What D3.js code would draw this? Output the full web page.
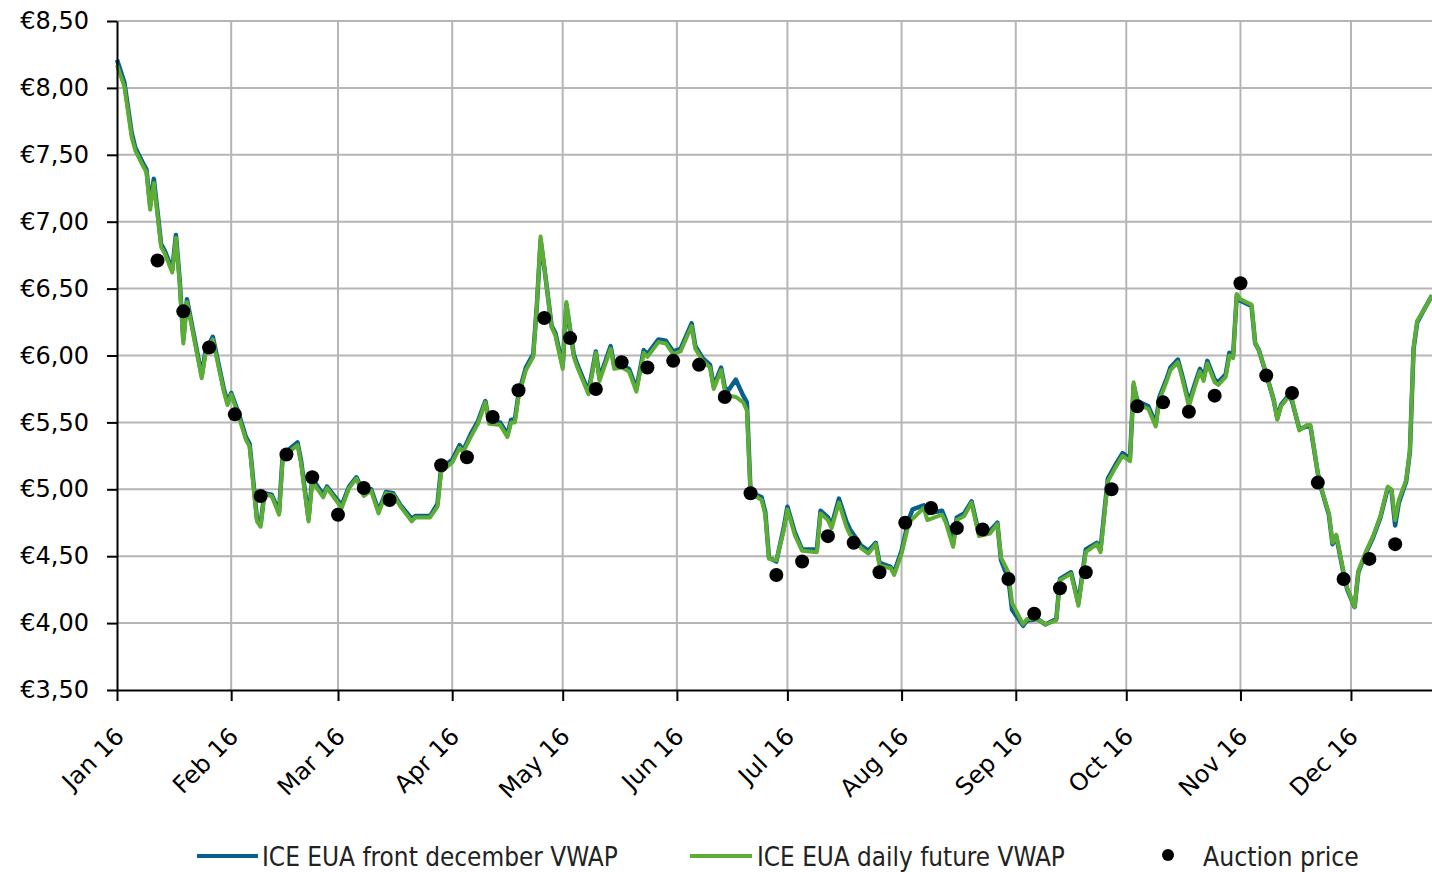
<!DOCTYPE html>
<html>
<head>
<meta charset="utf-8">
<script src="https://cdn.jsdelivr.net/npm/d3@7"></script>
<style>
  html, body { margin: 0; padding: 0; background: #fff; }
  svg { display: block; }
</style>
</head>
<body>
<svg id="chart" width="1432" height="872"></svg>
<script>
// ---------- DATA ----------
const dates = [
"2016-01-01","2016-01-03","2016-01-05","2016-01-06","2016-01-08","2016-01-09","2016-01-10","2016-01-11","2016-01-13","2016-01-14","2016-01-16","2016-01-17","2016-01-18","2016-01-19","2016-01-20","2016-01-24","2016-01-25","2016-01-27","2016-01-30","2016-01-31",
"2016-02-01","2016-02-03","2016-02-05","2016-02-06","2016-02-08","2016-02-09","2016-02-10","2016-02-12","2016-02-14","2016-02-15","2016-02-19","2016-02-20","2016-02-22","2016-02-23","2016-02-26","2016-02-27",
"2016-03-02","2016-03-04","2016-03-06","2016-03-08","2016-03-10","2016-03-12","2016-03-14","2016-03-16","2016-03-18","2016-03-21","2016-03-22","2016-03-26","2016-03-28","2016-03-29",
"2016-04-01","2016-04-03","2016-04-04","2016-04-06","2016-04-08","2016-04-10","2016-04-11","2016-04-14","2016-04-16","2016-04-17","2016-04-18","2016-04-19","2016-04-21","2016-04-23","2016-04-24","2016-04-25","2016-04-26","2016-04-28","2016-04-29",
"2016-05-01","2016-05-02","2016-05-04","2016-05-05","2016-05-08","2016-05-10","2016-05-11","2016-05-14","2016-05-15","2016-05-17","2016-05-19","2016-05-21","2016-05-23","2016-05-24","2016-05-27","2016-05-29","2016-05-31",
"2016-06-02","2016-06-05","2016-06-06","2016-06-08","2016-06-10","2016-06-11","2016-06-13","2016-06-14","2016-06-15","2016-06-17","2016-06-19","2016-06-20","2016-06-21","2016-06-24","2016-06-25","2016-06-26","2016-06-28","2016-06-30",
"2016-07-01","2016-07-03","2016-07-05","2016-07-09","2016-07-10","2016-07-12","2016-07-13","2016-07-15","2016-07-17","2016-07-18","2016-07-21","2016-07-23","2016-07-25","2016-07-26","2016-07-29","2016-07-30",
"2016-08-01","2016-08-03","2016-08-04","2016-08-07","2016-08-08","2016-08-12","2016-08-13","2016-08-15","2016-08-16","2016-08-18","2016-08-20","2016-08-22","2016-08-25","2016-08-27","2016-08-28","2016-08-30","2016-08-31",
"2016-09-03","2016-09-04","2016-09-07","2016-09-09","2016-09-12","2016-09-13","2016-09-16","2016-09-18","2016-09-20","2016-09-23","2016-09-24","2016-09-26","2016-09-28","2016-09-30",
"2016-10-02","2016-10-03","2016-10-04","2016-10-07","2016-10-09","2016-10-10","2016-10-12","2016-10-13","2016-10-15","2016-10-16","2016-10-18","2016-10-20","2016-10-21","2016-10-22","2016-10-23","2016-10-25","2016-10-26","2016-10-28","2016-10-29","2016-10-30","2016-10-31",
"2016-11-01","2016-11-04","2016-11-05","2016-11-06","2016-11-08","2016-11-10","2016-11-11","2016-11-12","2016-11-14","2016-11-15","2016-11-17","2016-11-19","2016-11-20","2016-11-22","2016-11-23","2016-11-25","2016-11-26","2016-11-27","2016-11-29","2016-11-30",
"2016-12-02","2016-12-03","2016-12-05","2016-12-07","2016-12-09","2016-12-11","2016-12-12","2016-12-13","2016-12-14","2016-12-16","2016-12-17","2016-12-18","2016-12-19","2016-12-21","2016-12-23"
];

// ICE EUA daily future VWAP (green)
const dailyFuture = [
8.17,8.01,7.63,7.53,7.42,7.37,7.09,7.29,6.81,6.76,6.62,6.88,6.55,6.09,6.40,5.83,6.01,6.12,5.73,5.63,
5.71,5.55,5.37,5.32,4.76,4.72,4.96,4.95,4.81,5.24,5.33,5.19,4.76,5.06,4.94,5.01,
4.86,5.01,5.08,4.95,4.99,4.82,4.97,4.96,4.87,4.76,4.79,4.79,4.87,5.13,
5.20,5.31,5.28,5.39,5.49,5.65,5.49,5.48,5.39,5.50,5.50,5.69,5.89,5.99,6.38,6.89,6.66,6.21,6.15,
5.90,6.40,5.99,5.91,5.71,6.02,5.81,6.05,5.90,5.91,5.88,5.73,6.02,5.99,6.10,6.09,6.01,
6.03,6.22,6.05,5.96,5.91,5.75,5.89,5.74,5.70,5.69,5.65,5.59,4.97,4.92,4.81,4.48,4.47,4.69,
4.85,4.66,4.54,4.53,4.82,4.77,4.71,4.90,4.72,4.66,4.56,4.52,4.59,4.43,4.41,4.36,
4.52,4.75,4.78,4.86,4.77,4.81,4.75,4.57,4.77,4.80,4.90,4.65,4.67,4.74,4.49,4.38,4.15,
3.99,4.03,4.03,3.99,4.02,4.32,4.37,4.13,4.53,4.59,4.53,5.06,5.16,5.25,
5.21,5.80,5.64,5.60,5.47,5.67,5.81,5.89,5.95,5.85,5.62,5.80,5.88,5.81,5.94,5.80,5.78,5.84,6.00,5.98,6.46,
6.42,6.38,6.09,6.04,5.86,5.67,5.52,5.62,5.69,5.67,5.44,5.48,5.48,5.12,5.00,4.82,4.60,4.66,4.38,4.26,
4.12,4.39,4.53,4.65,4.80,5.02,5.00,4.77,4.92,5.07,5.29,6.06,6.26,6.35,6.45
];

// ICE EUA front december VWAP (blue)
const frontDecember = [
8.21,8.04,7.66,7.55,7.44,7.39,7.12,7.32,6.83,6.78,6.64,6.90,6.57,6.12,6.42,5.85,6.03,6.14,5.75,5.65,
5.72,5.57,5.39,5.34,4.78,4.74,4.97,4.96,4.83,5.26,5.35,5.21,4.78,5.08,4.96,5.02,
4.88,5.02,5.09,4.97,5.00,4.84,4.98,4.97,4.88,4.78,4.80,4.80,4.89,5.16,
5.22,5.33,5.29,5.41,5.51,5.66,5.51,5.50,5.41,5.52,5.52,5.71,5.91,6.01,6.38,6.86,6.66,6.22,6.17,
5.92,6.38,6.01,5.93,5.73,6.03,5.83,6.07,5.92,5.93,5.90,5.75,6.04,6.01,6.12,6.11,6.03,
6.05,6.24,6.07,5.98,5.93,5.77,5.91,5.76,5.74,5.82,5.70,5.65,4.98,4.94,4.83,4.49,4.46,4.71,
4.87,4.68,4.55,4.55,4.84,4.79,4.73,4.93,4.76,4.70,4.58,4.54,4.60,4.45,4.42,4.38,
4.54,4.78,4.85,4.88,4.82,4.84,4.77,4.59,4.79,4.82,4.91,4.67,4.69,4.75,4.47,4.33,4.10,
3.98,4.02,4.03,3.99,4.03,4.33,4.38,4.15,4.55,4.60,4.55,5.08,5.18,5.27,
5.23,5.78,5.66,5.62,5.49,5.69,5.83,5.91,5.97,5.87,5.65,5.82,5.90,5.83,5.96,5.82,5.80,5.86,6.02,6.00,6.45,
6.41,6.37,6.09,6.04,5.86,5.67,5.53,5.63,5.70,5.66,5.45,5.47,5.47,5.12,5.00,4.81,4.59,4.65,4.37,4.25,
4.12,4.38,4.52,4.64,4.79,5.01,4.99,4.73,4.90,5.06,5.28,6.05,6.25,6.35,6.45
];

const auctionDates = [
"2016-01-12","2016-01-19","2016-01-26","2016-02-02","2016-02-09","2016-02-16","2016-02-23","2016-03-01","2016-03-08","2016-03-15","2016-03-29",
"2016-04-05","2016-04-12","2016-04-19","2016-04-26","2016-05-03","2016-05-10","2016-05-17","2016-05-24","2016-05-31","2016-06-07","2016-06-14",
"2016-06-21","2016-06-28","2016-07-05","2016-07-12","2016-07-19","2016-07-26","2016-08-02","2016-08-09","2016-08-16","2016-08-23","2016-08-30",
"2016-09-06","2016-09-13","2016-09-20","2016-09-27","2016-10-04","2016-10-11","2016-10-18","2016-10-25","2016-11-01","2016-11-08","2016-11-15",
"2016-11-22","2016-11-29","2016-12-06","2016-12-13"
];
const auctionPrices = [
6.71,6.33,6.06,5.56,4.95,5.26,5.09,4.81,5.01,4.92,5.18,
5.24,5.54,5.74,6.28,6.13,5.75,5.95,5.91,5.96,5.93,5.69,
4.97,4.36,4.46,4.65,4.60,4.38,4.75,4.86,4.71,4.70,4.33,
4.07,4.26,4.38,5.00,5.62,5.65,5.58,5.70,6.54,5.85,5.72,
5.05,4.33,4.48,4.59
];

const yTicks = [3.5,4.0,4.5,5.0,5.5,6.0,6.5,7.0,7.5,8.0,8.5];
const seriesNames = ["ICE EUA front december VWAP","ICE EUA daily future VWAP","Auction price"];
const xStart = "2016-01-01", xEnd = "2016-12-23";

// ---------- CHART ----------
const parse = d3.timeParse("%Y-%m-%d");
const svg = d3.select("#chart");
const m = {left:117, right:1432, top:21, bottom:690};

const x = d3.scaleTime().domain([parse(xStart), parse(xEnd)]).range([m.left, m.right]);
const y = d3.scaleLinear().domain([3.5, 8.5]).range([m.bottom, m.top]);

const COL_BLUE = "#0b5f8c", COL_GREEN = "#5cad33", GRID = "#b5b5b5";
const tickFont = "'DejaVu Sans', Verdana, sans-serif";

// gridlines
const months = d3.timeMonth.range(parse("2016-01-01"), parse("2016-12-24"));
svg.append("g").selectAll("line.hg").data(yTicks.slice(1)).join("line")
  .attr("x1", m.left).attr("x2", m.right)
  .attr("y1", d => y(d)).attr("y2", d => y(d))
  .attr("stroke", GRID).attr("stroke-width", 2);
svg.append("g").selectAll("line.vg").data(months.slice(1)).join("line")
  .attr("x1", d => x(d)).attr("x2", d => x(d))
  .attr("y1", m.top).attr("y2", m.bottom)
  .attr("stroke", GRID).attr("stroke-width", 2);

// lines
const frontData = dates.map((d,i) => ({date: parse(d), v: frontDecember[i]}));
const dailyData = dates.map((d,i) => ({date: parse(d), v: dailyFuture[i]}));
const line = d3.line().x(d => x(d.date)).y(d => y(d.v));

svg.append("path").datum(frontData).attr("d", line)
  .attr("fill","none").attr("stroke", COL_BLUE).attr("stroke-width", 4.5).attr("stroke-linejoin","round");
svg.append("path").datum(dailyData).attr("d", line)
  .attr("fill","none").attr("stroke", COL_GREEN).attr("stroke-width", 4).attr("stroke-linejoin","round");

// auction dots
svg.append("g").selectAll("circle").data(auctionDates.map((d,i)=>({date: parse(d), v: auctionPrices[i]}))).join("circle")
  .attr("cx", d => x(d.date)).attr("cy", d => y(d.v)).attr("r", 7).attr("fill", "#000");

// axes
const fmt = v => "€" + d3.format(".2f")(v).replace(".", ",");
const yAxis = svg.append("g").attr("transform", `translate(${m.left},0)`)
  .call(d3.axisLeft(y).tickValues(yTicks).tickFormat(fmt).tickSize(10).tickSizeOuter(0).tickPadding(18));
yAxis.select(".domain").attr("stroke","#000").attr("stroke-width",2);
yAxis.selectAll(".tick line").attr("stroke","#000").attr("stroke-width",2);
yAxis.selectAll(".tick text").attr("font-family", tickFont).attr("font-size", 24).attr("fill","#000");

const xAxis = svg.append("g").attr("transform", `translate(0,${m.bottom})`)
  .call(d3.axisBottom(x).tickValues(months).tickFormat(d3.timeFormat("%b %y")).tickSize(11).tickSizeOuter(0));
xAxis.select(".domain").attr("stroke","#000").attr("stroke-width",2);
xAxis.selectAll(".tick line").attr("stroke","#000").attr("stroke-width",2);
xAxis.selectAll(".tick text")
  .attr("font-family", tickFont).attr("font-size", 24).attr("fill","#000")
  .attr("text-anchor","end").attr("dy", null).attr("y", null)
  .attr("transform", "translate(8,48) rotate(-45)");

// legend
const legFont = "'Liberation Sans Narrow', 'DejaVu Sans Condensed', sans-serif";
const leg = svg.append("g");
const legItems = [
  {name: seriesNames[0], type:"line", color: COL_BLUE, sx: 197, sw: 61, tx: 262, tw: 356},
  {name: seriesNames[1], type:"line", color: COL_GREEN, sx: 690, sw: 62, tx: 757, tw: 308},
  {name: seriesNames[2], type:"dot", color: "#000", sx: 1168, sw: 0, tx: 1203, tw: 156}
];
legItems.forEach(it => {
  if (it.type === "line") {
    leg.append("line").attr("x1", it.sx).attr("x2", it.sx + it.sw).attr("y1", 856).attr("y2", 856)
      .attr("stroke", it.color).attr("stroke-width", 4);
  } else {
    leg.append("circle").attr("cx", it.sx).attr("cy", 855).attr("r", 6).attr("fill", it.color);
  }
  const t = leg.append("text").attr("x", it.tx).attr("y", 866)
    .attr("font-family", legFont).attr("font-size", 30).attr("fill", "#222").text(it.name);
  const w = t.node().getComputedTextLength();
  if (w > 0) t.attr("font-size", (30 * it.tw / w).toFixed(2));
});
</script>
</body>
</html>
